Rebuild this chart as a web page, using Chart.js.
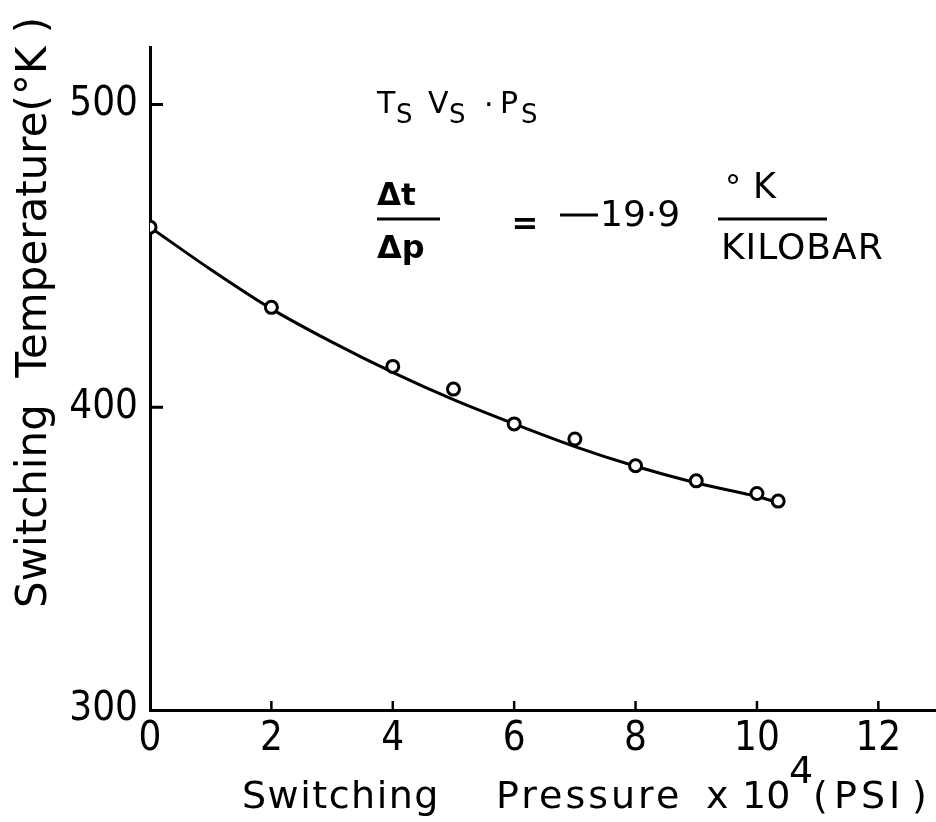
<!DOCTYPE html>
<html>
<head>
<meta charset="utf-8">
<script src="https://cdn.jsdelivr.net/npm/chart.js@4.4.1/dist/chart.umd.min.js"></script>
<style>
  html, body { margin: 0; padding: 0; background: #fff; }
  canvas { display: block; }
</style>
</head>
<body>
<canvas id="chart" width="936" height="822"></canvas>
<script>
// data
const xTicks = [0, 2, 4, 6, 8, 10, 12];
const yTicks = [300, 400, 500];
const pressure = [0, 2, 4, 5, 6, 7, 8, 9, 10, 10.35];
const temperature = [459.5, 433, 413.5, 406, 394.5, 389.5, 380.7, 375.7, 371.5, 369];
// smooth fitted curve
const fitPressure = [0, 1, 2, 3, 4, 5, 6, 7, 8, 9, 10, 10.35];
const fitTemperature = [459.5, 445.5, 432.5, 421.5, 411.5, 402.5, 394.5, 387, 380.5, 375, 370.5, 368.5];

const FONT = '"DejaVu Sans", sans-serif';
const TICK_FONT = '"DejaVu Sans Condensed", "DejaVu Sans", sans-serif';

const pts = pressure.map((p, i) => ({ x: p, y: temperature[i] }));
const fit = fitPressure.map((p, i) => ({ x: p, y: fitTemperature[i] }));

function text(ctx, str, x, y, size, opts) {
    opts = opts || {};
    ctx.font = (opts.weight || 'normal') + ' ' + size + 'px ' + (opts.family || FONT);
    ctx.textAlign = opts.align || 'left';
    ctx.textBaseline = 'alphabetic';
    ctx.letterSpacing = (opts.spacing || 0) + 'px';
    ctx.fillText(str, x, y);
    ctx.letterSpacing = '0px';
}

function hline(ctx, x1, x2, y, w) {
    ctx.beginPath();
    ctx.lineWidth = w;
    ctx.moveTo(x1, y);
    ctx.lineTo(x2, y);
    ctx.stroke();
}

const decorations = {
    id: 'decorations',
    afterDraw(chart) {
        const ctx = chart.ctx;
        const xs = chart.scales.x;
        const ys = chart.scales.y;
        const area = chart.chartArea;
        ctx.save();
        ctx.fillStyle = '#000';
        ctx.strokeStyle = '#000';
        ctx.lineCap = 'butt';

        // inward tick marks
        yTicks.slice(1).forEach(v => {
            const py = ys.getPixelForValue(v);
            hline(ctx, area.left, area.left + 13, py, 3);
        });
        xTicks.slice(1).forEach(v => {
            const px = xs.getPixelForValue(v);
            ctx.beginPath();
            ctx.lineWidth = 2.5;
            ctx.moveTo(px, area.bottom);
            ctx.lineTo(px, area.bottom - 9);
            ctx.stroke();
        });

        // Ts Vs.Ps
        text(ctx, 'T', 377, 113, 30);
        text(ctx, 'S', 396, 123, 26);
        text(ctx, 'V', 428, 113, 30);
        text(ctx, 'S', 449, 123, 26);
        text(ctx, '·', 484, 115, 30);
        text(ctx, 'P', 500, 113, 30);
        text(ctx, 'S', 521, 123, 26);

        // delta t / delta p
        text(ctx, 'Δt', 377, 205, 31, { weight: 'bold' });
        hline(ctx, 377, 440, 219, 3);
        text(ctx, 'Δp', 377, 258, 32, { weight: 'bold' });
        text(ctx, '=', 525, 234, 32, { weight: 'bold', align: 'center' });
        hline(ctx, 560, 598, 215, 3);
        text(ctx, '19·9', 600, 226, 36);

        // deg K / KILOBAR
        text(ctx, '°', 733, 198, 32, { align: 'center' });
        text(ctx, 'K', 753, 198, 35);
        hline(ctx, 718, 827, 219, 3);
        text(ctx, 'KILOBAR', 721, 259, 36, { spacing: 1 });

        // y axis title
        ctx.save();
        ctx.translate(46, 608);
        ctx.rotate(-Math.PI / 2);
        text(ctx, 'Switching  Temperature(°K )', 0, 0, 42);
        ctx.restore();

        // x axis title
        text(ctx, 'Switching', 242, 808, 38, { spacing: 1.5 });
        text(ctx, 'Pressure', 496, 808, 38, { spacing: 3 });
        text(ctx, 'x', 706, 808, 38);
        text(ctx, '10', 742, 808, 38);
        text(ctx, '4', 789, 783, 38);
        text(ctx, '(', 813, 808, 38);
        text(ctx, 'PSI', 834, 808, 38, { spacing: 4 });
        text(ctx, ')', 912, 808, 38);

        ctx.restore();
    }
};

const axisCommon = {
    type: 'linear',
    grid: { display: false, drawTicks: false },
    border: { display: true, color: '#000', width: 3 },
    ticks: {
        color: '#000',
        font: { family: TICK_FONT, size: 40 },
        maxRotation: 0,
        autoSkip: false
    }
};

new Chart(document.getElementById('chart'), {
    type: 'scatter',
    data: {
        datasets: [
            {
                label: 'points',
                data: pts,
                order: 0,
                showLine: false,
                pointRadius: 6,
                pointBorderWidth: 3,
                pointBorderColor: '#000',
                pointBackgroundColor: '#fff'
            },
            {
                label: 'fit',
                data: fit,
                order: 1,
                showLine: true,
                borderColor: '#000',
                borderWidth: 3,
                pointRadius: 0,
                cubicInterpolationMode: 'monotone',
                fill: false
            }
        ]
    },
    options: {
        responsive: false,
        animation: false,
        layout: { autoPadding: false, padding: { top: 47, right: 0, bottom: 0, left: 0 } },
        plugins: {
            legend: { display: false },
            tooltip: { enabled: false }
        },
        scales: {
            x: {
                ...axisCommon,
                min: 0,
                max: 12.95,
                ticks: { ...axisCommon.ticks, padding: 6 },
                afterBuildTicks: s => { s.ticks = xTicks.map(v => ({ value: v })); },
                afterFit: s => { s.height = 112; }
            },
            y: {
                ...axisCommon,
                min: 300,
                max: 519,
                ticks: { ...axisCommon.ticks, padding: 12 },
                afterBuildTicks: s => { s.ticks = yTicks.map(v => ({ value: v })); },
                afterFit: s => { s.width = 150; }
            }
        }
    },
    plugins: [decorations]
});
</script>
</body>
</html>
